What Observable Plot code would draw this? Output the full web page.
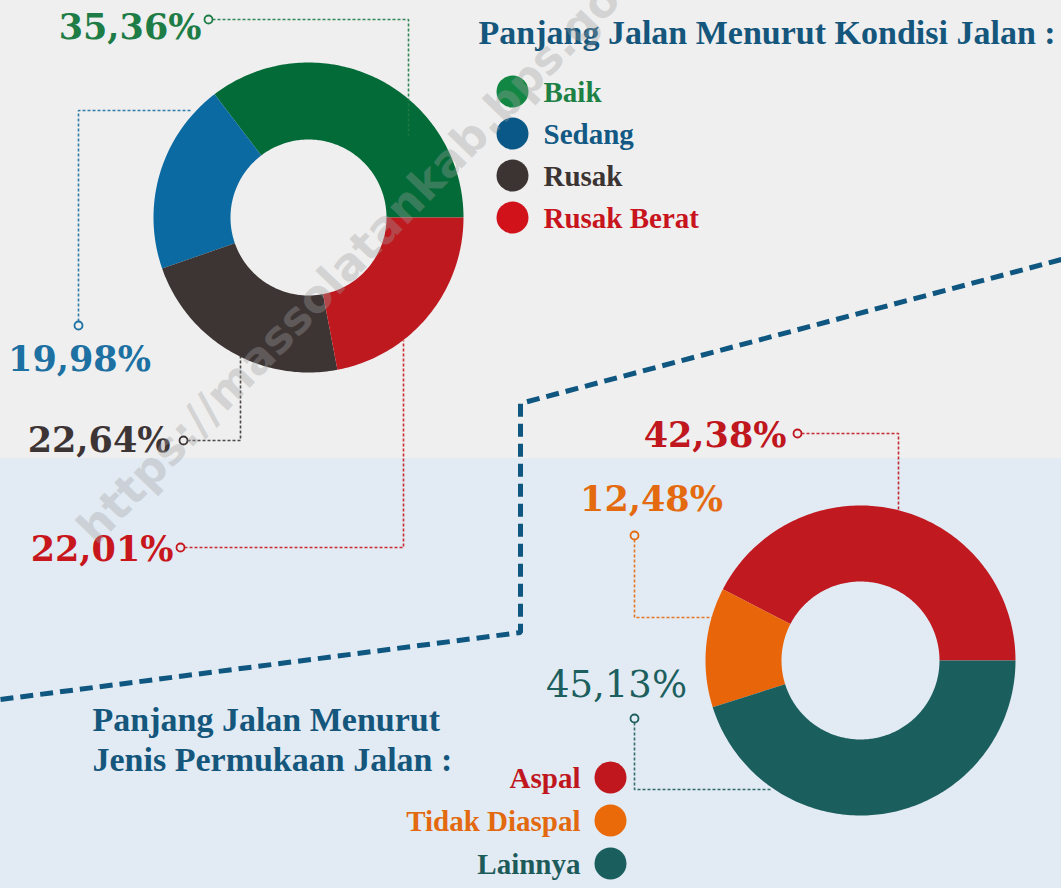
<!DOCTYPE html>
<html>
<head>
<meta charset="utf-8">
<script src="https://cdn.jsdelivr.net/npm/d3@7"></script>
<script src="https://cdn.jsdelivr.net/npm/@observablehq/plot@0.6"></script>
<style>
  html, body { margin: 0; padding: 0; background: #efefef; }
  #chart svg { display: block; }
</style>
</head>
<body>
<div id="chart"></div>
<script>
// ---------- DATA ----------
const conditionTitle = "Panjang Jalan Menurut Kondisi Jalan :";
const conditionLabels = ["Baik", "Sedang", "Rusak", "Rusak Berat"];
const conditionValues = [35.36, 19.98, 22.64, 22.01];

const surfaceTitle = ["Panjang Jalan Menurut", "Jenis Permukaan Jalan :"];
const surfaceLabels = ["Aspal", "Tidak Diaspal", "Lainnya"];
const surfaceValues = [42.38, 12.48, 45.13];

const watermarkText = "https://massolatankab.bps.go.id";

// ---------- STYLES ----------
const allLabels = [...conditionLabels, ...surfaceLabels];
const sliceColors = ["#036b37", "#0b6aa2", "#3d3534", "#bf1920", "#c0191f", "#e8650a", "#1b5e5e"];
const legendDotColors = ["#128744", "#0a5888", "#3c3433", "#d1121b", "#c0171f", "#ea6a0a", "#1b5e5e"];
const textColors = ["#1d8145", "#125a85", "#3c3433", "#c8151d", "#c0171f", "#e2690f", "#1d5b5b"];
const percentColors = ["#1e7c46", "#1c70a2", "#3d3535", "#c8161d", "#c0161e", "#e46a10", "#1d5e5e"];
const titleColor = "#14567c";
const serifTitle = "'Liberation Serif', 'DejaVu Serif', serif";
const serifNum = "'DejaVu Serif', serif";

const W = 1061, H = 888;
const fmtPct = v => v.toFixed(2).replace(".", ",") + "%";
const colorOf = (arr, label) => arr[allLabels.indexOf(label)];

// ---------- GEOMETRY HELPERS ----------
function ringPoints(labels, values, cx, cy, R, r) {
  const total = d3.sum(values);
  let acc = 0;
  const pts = [];
  labels.forEach((label, i) => {
    const a0 = acc / total * 2 * Math.PI;
    acc += values[i];
    const a1 = acc / total * 2 * Math.PI;
    const n = Math.max(2, Math.ceil((a1 - a0) / (Math.PI / 180)));
    for (let k = 0; k <= n; k++) {
      const a = a0 + (a1 - a0) * k / n;
      pts.push({label, x: cx + R * Math.cos(a), y: cy - R * Math.sin(a)});
    }
    for (let k = n; k >= 0; k--) {
      const a = a0 + (a1 - a0) * k / n;
      pts.push({label, x: cx + r * Math.cos(a), y: cy - r * Math.sin(a)});
    }
  });
  return pts;
}

const ring1 = ringPoints(conditionLabels, conditionValues, 308, 217, 155, 78);
const ring2 = ringPoints(surfaceLabels, surfaceValues, 860, 660, 155, 79);

// ---------- LAYOUT OF CALLOUTS ----------
const calloutLayout = {
  "Baik":          {tx: 201, ty: 38,  anchor: "end",    dot: [208, 19], path: [[212, 19], [408, 19], [408, 135]]},
  "Sedang":        {tx: 79,  ty: 370, anchor: "middle", dot: [78, 325], path: [[78, 321], [78, 110], [192, 110]]},
  "Rusak":         {tx: 170, ty: 451, anchor: "end",    dot: [183, 440], path: [[187, 440], [240, 440], [240, 355]]},
  "Rusak Berat":   {tx: 173, ty: 560, anchor: "end",    dot: [180, 547], path: [[184, 547], [403, 547], [403, 340]]},
  "Aspal":         {tx: 786, ty: 446, anchor: "end",    dot: [797, 433], path: [[801, 433], [898, 433], [898, 510]]},
  "Tidak Diaspal": {tx: 651, ty: 510, anchor: "middle", dot: [634, 535], path: [[634, 539], [634, 617], [720, 617]]},
  "Lainnya":       {tx: 616, ty: 696, anchor: "middle", dot: [634, 718], path: [[634, 722], [634, 789], [770, 789]]}
};

const pctRows = [
  ...conditionLabels.map((l, i) => ({label: l, value: conditionValues[i]})),
  ...surfaceLabels.map((l, i) => ({label: l, value: surfaceValues[i]}))
];
const connectorPts = pctRows.flatMap(d => calloutLayout[d.label].path.map(([x, y]) => ({label: d.label, x, y})));

const legend1 = conditionLabels.map((l, i) => ({label: l, x: 512, y: 91 + i * 42}));
const legend2 = surfaceLabels.map((l, i) => ({label: l, x: 610, y: 777 + i * 43}));

const divider = [[0, 699], [520, 632], [520, 403], [1061, 259]].map(([x, y]) => ({x, y}));

const bgBands = [
  {y1: 0, y2: 458, fill: "#efefef"},
  {y1: 458, y2: H, fill: "#e2ebf3"}
];

// ---------- PLOT ----------
const pctMark = (anchor, weight, size, filter) => Plot.text(
  pctRows.filter(d => calloutLayout[d.label].anchor === anchor && filter(d)), {
  x: d => calloutLayout[d.label].tx,
  y: d => calloutLayout[d.label].ty,
  text: d => fmtPct(d.value),
  textAnchor: anchor,
  lineAnchor: "bottom",
  fill: d => colorOf(percentColors, d.label),
  fontFamily: serifNum,
  fontWeight: weight,
  fontSize: size
});

const chart = Plot.plot({
  width: W,
  height: H,
  margin: 0,
  x: {domain: [0, W], range: [0, W], axis: null},
  y: {domain: [0, H], range: [0, H], axis: null},
  color: {domain: allLabels, range: sliceColors},
  style: {background: "#efefef", overflow: "hidden"},
  marks: [
    Plot.rect(bgBands, {x1: 0, x2: W, y1: "y1", y2: "y2", fill: d => d.fill}),
    // divider dashed line
    Plot.line(divider, {x: "x", y: "y", stroke: "#0f5780", strokeWidth: 5, strokeDasharray: "13,7", strokeLinecap: "butt", strokeLinejoin: "miter"}),
    // donuts
    Plot.line(ring1, {x: "x", y: "y", z: "label", fill: "label", stroke: "none", curve: "linear"}),
    Plot.line(ring2, {x: "x", y: "y", z: "label", fill: "label", stroke: "none", curve: "linear"}),
    // connectors
    Plot.line(connectorPts, {x: "x", y: "y", z: "label", stroke: d => colorOf(percentColors, d.label), strokeWidth: 1.6, strokeDasharray: "3,2", strokeLinecap: "butt", strokeLinejoin: "miter", strokeOpacity: 0.9}),
    Plot.dot(pctRows, {
      x: d => calloutLayout[d.label].dot[0],
      y: d => calloutLayout[d.label].dot[1],
      r: 4,
      fill: d => calloutLayout[d.label].dot[1] > 458 ? "#e2ebf3" : "#efefef",
      stroke: d => colorOf(percentColors, d.label),
      strokeWidth: 1.8
    }),
    // percentage labels
    pctMark("end", "bold", 35, d => true),
    pctMark("middle", "bold", 35, d => d.label !== "Lainnya"),
    pctMark("middle", "normal", 37, d => d.label === "Lainnya"),
    // titles
    Plot.text([conditionTitle], {x: 478, y: 43, text: d => d, textAnchor: "start", lineAnchor: "bottom", fill: titleColor, fontFamily: serifTitle, fontWeight: "bold", fontSize: 34}),
    Plot.text(surfaceTitle, {x: 92, y: (d, i) => 730 + i * 40, text: d => d, textAnchor: "start", lineAnchor: "bottom", fill: titleColor, fontFamily: serifTitle, fontWeight: "bold", fontSize: 34}),
    // legend 1
    Plot.dot(legend1, {x: "x", y: "y", r: 16, fill: d => colorOf(legendDotColors, d.label)}),
    Plot.text(legend1, {x: d => d.x + 31, y: d => d.y + 10, text: "label", textAnchor: "start", lineAnchor: "bottom", fill: d => colorOf(textColors, d.label), fontFamily: serifTitle, fontWeight: "bold", fontSize: 29}),
    // legend 2
    Plot.dot(legend2, {x: "x", y: "y", r: 16, fill: d => colorOf(legendDotColors, d.label)}),
    Plot.text(legend2, {x: d => d.x - 30, y: d => d.y + 10, text: "label", textAnchor: "end", lineAnchor: "bottom", fill: d => colorOf(textColors, d.label), fontFamily: serifTitle, fontWeight: "bold", fontSize: 29}),
    // watermark
    Plot.text([watermarkText], {x: 96, y: 546, text: d => d, textAnchor: "start", lineAnchor: "bottom", rotate: -46, fill: "#a0a0a0", fillOpacity: 0.34, fontFamily: "'DejaVu Sans', sans-serif", fontWeight: "bold", fontSize: 45})
  ]
});

document.getElementById("chart").appendChild(chart);
</script>
</body>
</html>
